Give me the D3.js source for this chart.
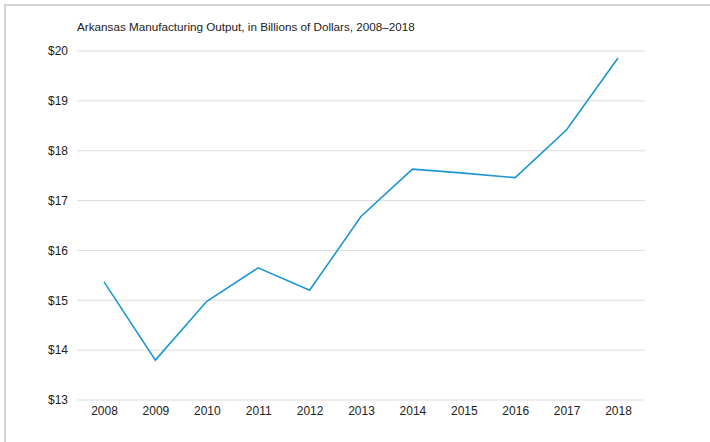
<!doctype html>
<html lang="en">
<head>
    <meta charset="utf-8">
    <title>Arkansas Manufacturing Output</title>
    <script src="https://d3js.org/d3.v7.min.js"></script>
    <style>
        body {
            margin: 0;
            padding: 0;
            background: #fff;
        }
        svg text {
            font-family: "Liberation Sans", Arial, sans-serif;
            fill: #222;
        }
    </style>
</head>
<body>
    <div class="chart"></div>
    <script>
        // data
        const years = [2008, 2009, 2010, 2011, 2012, 2013, 2014, 2015, 2016, 2017, 2018];
        const output = [15.37, 13.80, 14.98, 15.65, 15.20, 16.68, 17.63, 17.55, 17.46, 18.42, 19.86];
        const yTicks = [13, 14, 15, 16, 17, 18, 19, 20];
        const title = "Arkansas Manufacturing Output, in Billions of Dollars, 2008\u20132018";

        const width = 710, height = 442;
        const svg = d3.select(".chart").append("svg")
            .attr("width", width)
            .attr("height", height)
            .style("display", "block");

        // frame (only top and left edges are in view)
        svg.append("path")
            .attr("d", "M5,442 L5,5 L710,5")
            .style("fill", "none")
            .style("stroke", "#d4d4d4")
            .style("stroke-width", 2);

        const plotLeft = 77, plotRight = 645, plotTop = 51, plotBottom = 400;

        const x = d3.scalePoint()
            .domain(years)
            .range([104, 618]);

        const y = d3.scaleLinear()
            .domain([13, 20])
            .range([plotBottom, plotTop]);

        // gridlines
        svg.append("g")
            .selectAll("line")
            .data(yTicks)
            .enter()
            .append("line")
            .attr("x1", plotLeft)
            .attr("x2", plotRight)
            .attr("y1", d => y(d))
            .attr("y2", d => y(d))
            .style("stroke", "#dcdcdc")
            .style("stroke-width", 1);

        // y axis labels
        const yAxis = d3.axisLeft(y)
            .tickValues(yTicks)
            .tickSize(0)
            .tickPadding(0)
            .tickFormat(d => "$" + d);

        svg.append("g")
            .attr("transform", "translate(68,0)")
            .call(yAxis)
            .call(g => g.select(".domain").remove())
            .selectAll("text")
            .style("font-size", "12px")
            .style("font-family", "'Liberation Sans', Arial, sans-serif")
            .style("fill", "#222");

        // x axis labels
        const xAxis = d3.axisBottom(x)
            .tickSize(0)
            .tickPadding(0);

        svg.append("g")
            .attr("transform", "translate(0,406)")
            .call(xAxis)
            .call(g => g.select(".domain").remove())
            .selectAll("text")
            .style("font-size", "12px")
            .style("font-family", "'Liberation Sans', Arial, sans-serif")
            .style("fill", "#222");

        // the line
        const line = d3.line()
            .x((d, i) => x(years[i]))
            .y(d => y(d));

        svg.append("path")
            .datum(output)
            .attr("d", line)
            .style("fill", "none")
            .style("stroke", "#1b96d2")
            .style("stroke-width", 1.6)
            .style("stroke-linejoin", "miter");

        // title
        svg.append("text")
            .attr("x", 77)
            .attr("y", 31)
            .style("font-size", "11.7px")
            .text(title);
    </script>
</body>
</html>
